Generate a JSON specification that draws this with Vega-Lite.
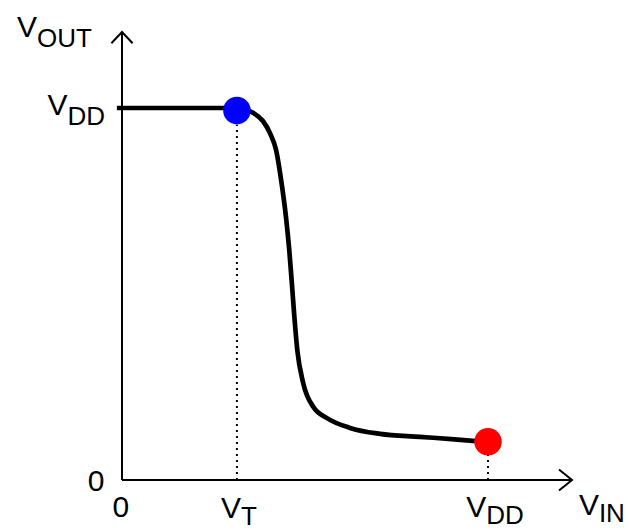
{
  "$schema": "https://vega.github.io/schema/vega-lite/v6.json",
  "width": 450,
  "height": 448,
  "autosize": {"type": "none"},
  "padding": {"left": 122, "top": 32, "right": 57, "bottom": 51},
  "background": "white",
  "config": {"view": {"stroke": null}, "font": "Liberation Sans"},
  "datasets": {
    "curve": [
      {"x": -0.014, "y": 1.0}, {"x": 0.0, "y": 1.0}, {"x": 0.15, "y": 1.0}, {"x": 0.30, "y": 1.0},
      {"x": 0.33, "y": 0.998}, {"x": 0.358, "y": 0.987}, {"x": 0.385, "y": 0.965}, {"x": 0.404, "y": 0.933},
      {"x": 0.421, "y": 0.887}, {"x": 0.436, "y": 0.798}, {"x": 0.448, "y": 0.707}, {"x": 0.457, "y": 0.618},
      {"x": 0.464, "y": 0.530}, {"x": 0.471, "y": 0.438}, {"x": 0.479, "y": 0.349}, {"x": 0.495, "y": 0.261},
      {"x": 0.523, "y": 0.196}, {"x": 0.559, "y": 0.167}, {"x": 0.623, "y": 0.140},
      {"x": 0.705, "y": 0.124}, {"x": 0.814, "y": 0.116}, {"x": 0.90, "y": 0.110}, {"x": 1.0, "y": 0.102}
    ],
    "axes": [
      {"x": 0, "y": 0, "x2": 1.2295, "y2": 0},
      {"x": 0, "y": 0, "x2": 0, "y2": 1.2043}
    ],
    "arrows": [
      {"g": "x", "o": 1, "x": 1.194, "y": 0.028},
      {"g": "x", "o": 2, "x": 1.2295, "y": 0},
      {"g": "x", "o": 3, "x": 1.194, "y": -0.028},
      {"g": "y", "o": 1, "x": -0.029, "y": 1.174},
      {"g": "y", "o": 2, "x": 0, "y": 1.2043},
      {"g": "y", "o": 3, "x": 0.029, "y": 1.174}
    ],
    "guides": [
      {"x": 0.314, "y": 0, "x2": 0.314, "y2": 0.955},
      {"x": 1.0, "y": 0, "x2": 1.0, "y2": 0.067}
    ],
    "dots": [
      {"name": "VT", "x": 0.314, "y": 0.993, "c": "blue"},
      {"name": "VDD", "x": 1.0, "y": 0.103, "c": "red"}
    ],
    "labels": [
      {"main": "V", "sub": "OUT", "x": -0.232, "y": 1.191, "pos": "top"},
      {"main": "V", "sub": "DD", "x": -0.149, "y": 0.981, "pos": "top"},
      {"main": "V", "sub": "T", "x": 0.325, "y": -0.102, "pos": "bottom"},
      {"main": "V", "sub": "DD", "x": 0.995, "y": -0.0995, "pos": "bottom"},
      {"main": "V", "sub": "IN", "x": 1.303, "y": -0.094, "pos": "bottom"}
    ],
    "zeros": [
      {"t": "0", "x": -0.071, "y": -0.03},
      {"t": "0", "x": -0.003, "y": -0.0995}
    ]
  },
  "layer": [
    {
      "data": {"name": "axes"},
      "mark": {"type": "rule", "stroke": "black", "strokeWidth": 2},
      "encoding": {
        "x": {"field": "x", "type": "quantitative", "scale": {"domain": [0, 1.2295], "nice": false, "zero": false}, "axis": null},
        "y": {"field": "y", "type": "quantitative", "scale": {"domain": [0, 1.2043], "nice": false, "zero": false}, "axis": null},
        "x2": {"field": "x2"},
        "y2": {"field": "y2"}
      }
    },
    {
      "data": {"name": "arrows"},
      "mark": {"type": "line", "stroke": "black", "strokeWidth": 2, "clip": false},
      "encoding": {
        "x": {"field": "x", "type": "quantitative"},
        "y": {"field": "y", "type": "quantitative"},
        "detail": {"field": "g"},
        "order": {"field": "o"}
      }
    },
    {
      "data": {"name": "guides"},
      "mark": {"type": "rule", "stroke": "black", "strokeWidth": 2, "strokeDash": [2, 4]},
      "encoding": {
        "x": {"field": "x", "type": "quantitative"},
        "y": {"field": "y", "type": "quantitative"},
        "x2": {"field": "x2"},
        "y2": {"field": "y2"}
      }
    },
    {
      "data": {"name": "curve"},
      "mark": {"type": "line", "stroke": "black", "strokeWidth": 4.7, "interpolate": "monotone", "clip": false},
      "encoding": {
        "x": {"field": "x", "type": "quantitative"},
        "y": {"field": "y", "type": "quantitative"}
      }
    },
    {
      "data": {"name": "dots"},
      "mark": {"type": "point", "shape": "circle", "filled": true, "opacity": 1, "size": 760},
      "encoding": {
        "x": {"field": "x", "type": "quantitative"},
        "y": {"field": "y", "type": "quantitative"},
        "color": {"field": "c", "type": "nominal", "scale": null}
      }
    },
    {
      "data": {"name": "labels"},
      "mark": {"type": "text", "fontSize": 30, "align": "right", "baseline": "alphabetic", "color": "black"},
      "encoding": {
        "x": {"field": "x", "type": "quantitative"},
        "y": {"field": "y", "type": "quantitative"},
        "text": {"field": "main"}
      }
    },
    {
      "data": {"name": "labels"},
      "transform": [{"filter": "datum.pos == 'top'"}],
      "mark": {"type": "text", "fontSize": 26, "align": "left", "baseline": "alphabetic", "dy": 10, "color": "black"},
      "encoding": {
        "x": {"field": "x", "type": "quantitative"},
        "y": {"field": "y", "type": "quantitative"},
        "text": {"field": "sub"}
      }
    },
    {
      "data": {"name": "labels"},
      "transform": [{"filter": "datum.pos == 'bottom'"}],
      "mark": {"type": "text", "fontSize": 26, "align": "left", "baseline": "alphabetic", "dy": 7, "color": "black"},
      "encoding": {
        "x": {"field": "x", "type": "quantitative"},
        "y": {"field": "y", "type": "quantitative"},
        "text": {"field": "sub"}
      }
    },
    {
      "data": {"name": "zeros"},
      "mark": {"type": "text", "fontSize": 30, "align": "center", "baseline": "alphabetic", "color": "black"},
      "encoding": {
        "x": {"field": "x", "type": "quantitative"},
        "y": {"field": "y", "type": "quantitative"},
        "text": {"field": "t"}
      }
    }
  ]
}
